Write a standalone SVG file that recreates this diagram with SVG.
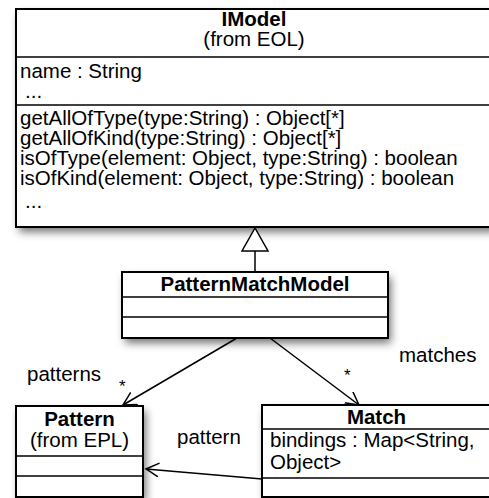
<svg xmlns="http://www.w3.org/2000/svg" width="489" height="498" viewBox="0 0 489 498">
<defs>
<style>
text{font-family:"Liberation Sans",Arial,sans-serif;font-size:20.5px;fill:#000}
.b{font-weight:bold}
.m{text-anchor:middle}
.box{fill:#fff;stroke:#000;stroke-width:2}
.sh{fill:#fff;filter:url(#shadow)}
.div{stroke:#000;stroke-width:1.6}
.con{stroke:#000;stroke-width:1.5;fill:none}
.star{font-size:17px}
</style>
<filter id="shadow" x="-20%" y="-20%" width="150%" height="150%">
<feDropShadow dx="3" dy="5" stdDeviation="4" flood-color="#000" flood-opacity="0.55"/>
</filter>
<marker id="open" markerWidth="16" markerHeight="16" refX="13" refY="7" orient="auto" markerUnits="userSpaceOnUse">
<path d="M0,0 L13,7 L0,14" fill="none" stroke="#000" stroke-width="1.5"/>
</marker>
</defs>
<rect width="489" height="498" fill="#fff"/>

<g id="IModel">
<rect class="sh" x="16" y="9" width="477" height="218"/>
<rect class="box" x="16" y="9" width="477" height="218"/>
<line class="div" x1="16" y1="57" x2="493" y2="57"/>
<line class="div" x1="16" y1="105" x2="493" y2="105"/>
<text class="b m" x="254" y="26">IModel</text>
<text class="m" x="254" y="46">(from EOL)</text>
<text x="20" y="78">name : String</text>
<text x="25" y="98">...</text>
<text x="20" y="125">getAllOfType(type:String) : Object[*]</text>
<text x="20" y="145">getAllOfKind(type:String) : Object[*]</text>
<text x="20" y="165">isOfType(element: Object, type:String) : boolean</text>
<text x="20" y="185">isOfKind(element: Object, type:String) : boolean</text>
<text x="25" y="208">...</text>
</g>

<g id="PatternMatchModel">
<rect class="sh" x="122" y="272" width="266" height="66"/>
<rect class="box" x="122" y="272" width="266" height="66"/>
<line class="div" x1="122" y1="297" x2="388" y2="297"/>
<line class="div" x1="122" y1="317" x2="388" y2="317"/>
<text class="b m" x="255" y="291">PatternMatchModel</text>
</g>

<g id="Pattern">
<rect class="sh" x="16" y="406" width="127" height="91"/>
<rect class="box" x="16" y="406" width="127" height="91"/>
<line class="div" x1="16" y1="456" x2="143" y2="456"/>
<line class="div" x1="16" y1="476" x2="143" y2="476"/>
<text class="b m" x="79.5" y="426">Pattern</text>
<text class="m" x="79.5" y="447">(from EPL)</text>
</g>

<g id="Match">
<rect class="sh" x="262" y="405" width="231" height="92"/>
<rect class="box" x="262" y="405" width="231" height="92"/>
<line class="div" x1="262" y1="429" x2="493" y2="429"/>
<line class="div" x1="262" y1="478" x2="493" y2="478"/>
<text class="b m" x="376.5" y="424">Match</text>
<text x="270" y="447">bindings : Map&lt;String,</text>
<text x="270" y="469">Object&gt;</text>
</g>

<g id="connectors">
<line class="con" x1="255" y1="272" x2="255" y2="251"/>
<polygon points="255,228 242,251 268,251" fill="#fff" stroke="#000" stroke-width="1.5"/>
<line class="con" x1="237" y1="338" x2="123" y2="405" marker-end="url(#open)"/>
<line class="con" x1="270" y1="338" x2="359" y2="405" marker-end="url(#open)"/>
<line class="con" x1="262" y1="479" x2="146" y2="469" marker-end="url(#open)"/>
<text x="27" y="381">patterns</text>
<text class="star" x="119" y="392">*</text>
<text x="399" y="362">matches</text>
<text class="star" x="344" y="381">*</text>
<text x="177" y="444">pattern</text>
</g>
</svg>
